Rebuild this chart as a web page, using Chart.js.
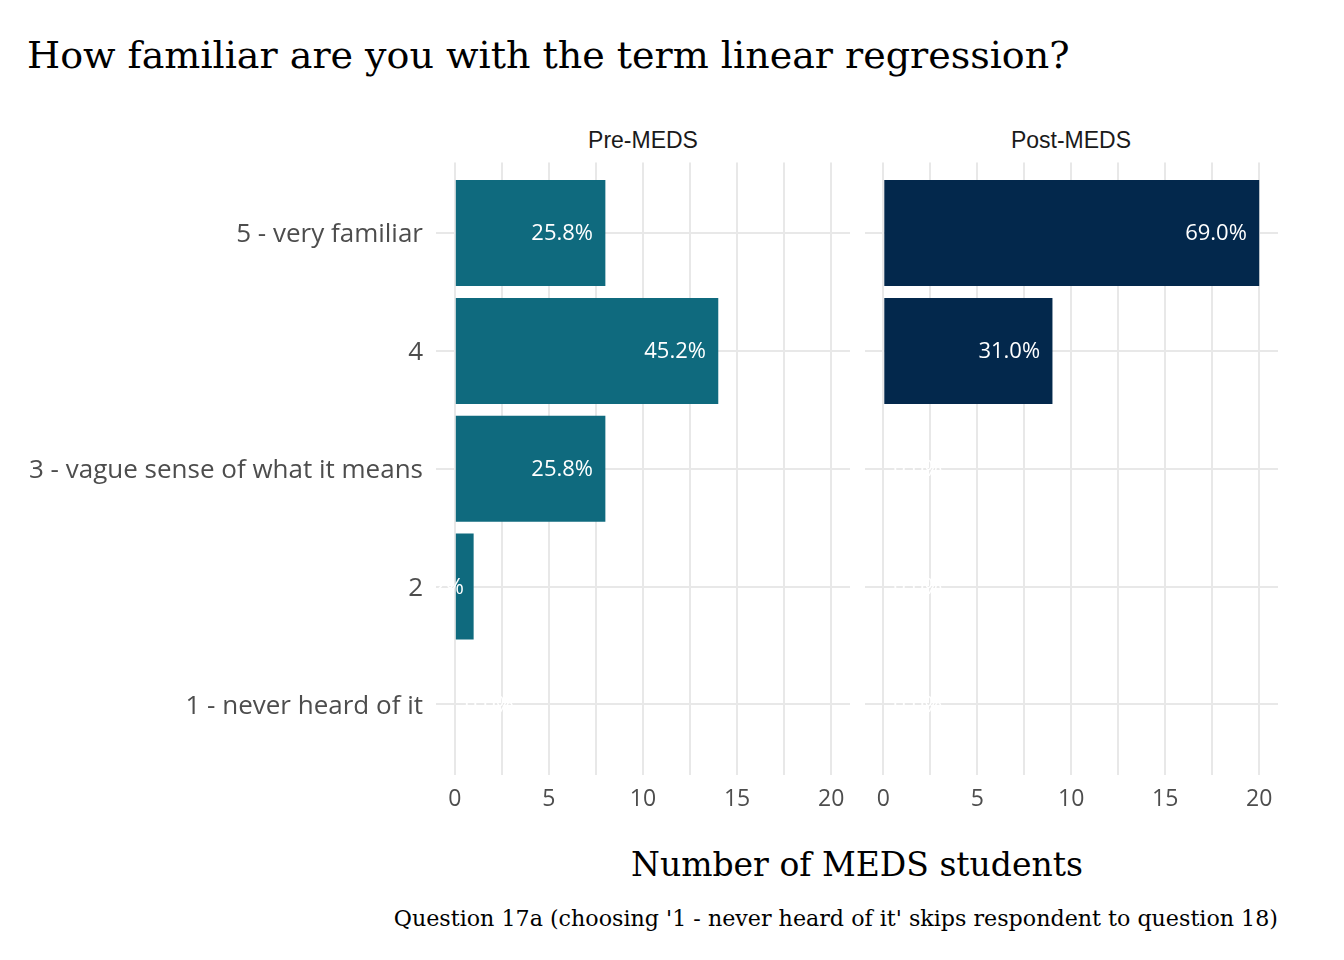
<!DOCTYPE html>
<html>
<head>
<meta charset="utf-8">
<script src="https://cdn.jsdelivr.net/npm/chart.js@4.4.1/dist/chart.umd.min.js"></script>
<style>
  html, body { margin: 0; padding: 0; background: #ffffff; }
  #wrap { position: relative; width: 1344px; height: 960px; background: #ffffff; overflow: hidden; }
  .txt { position: absolute; white-space: nowrap; line-height: 1; }
  #title { left: 27px; top: 36px; font-family: "DejaVu Serif", serif; font-size: 38px; color: #000; }
  .strip { font-family: "Liberation Sans", Arial, sans-serif; font-size: 23px; color: #1a1a1a; transform: translateX(-50%); top: 129px; }
  #xtitle { left: 857px; top: 848px; transform: translateX(-50%); font-family: "DejaVu Serif", serif; font-size: 33px; color: #000; }
  #caption { right: 66px; top: 907px; font-family: "DejaVu Serif", serif; font-size: 22.2px; color: #000; }
  #c1 { position: absolute; left: 0px; top: 100px; }
  #c2 { position: absolute; left: 860px; top: 100px; }
</style>
</head>
<body>
<div id="wrap">
  <div id="title" class="txt">How familiar are you with the term linear regression?</div>
  <div class="txt strip" style="left:643px;">Pre-MEDS</div>
  <div class="txt strip" style="left:1071px;">Post-MEDS</div>
  <div id="xtitle" class="txt">Number of MEDS students</div>
  <div id="caption" class="txt">Question 17a (choosing '1 - never heard of it' skips respondent to question 18)</div>
  <canvas id="c1" width="860" height="715"></canvas>
  <canvas id="c2" width="430" height="715"></canvas>
</div>
<script>
// ---- data ----
const categories = ["5 - very familiar", "4", "3 - vague sense of what it means", "2", "1 - never heard of it"];
const preCounts = [8, 14, 8, 1, 0];
const postCounts = [20, 9, 0, 0, 0];
const xTickValues = [0, 2.5, 5, 7.5, 10, 12.5, 15, 17.5, 20];
const yPositions = [1, 2, 3, 4, 5];
const preColor = "#0f6a7e";
const postColor = "#03284c";

const sansFont = "'Open Sans', Lato, sans-serif";

function pctLabels(counts) {
  const total = counts.reduce((a, b) => a + b, 0);
  return counts.map(c => (100 * c / total).toFixed(1) + "%");
}

const barLabelPlugin = {
  id: "barLabels",
  afterDatasetsDraw(chart, args, opts) {
    const ctx = chart.ctx;
    const meta = chart.getDatasetMeta(0);
    const labels = opts.labels;
    const a = chart.chartArea;
    ctx.save();
    ctx.beginPath();
    ctx.rect(a.left, a.top, a.right - a.left, a.bottom - a.top);
    ctx.clip();
    ctx.font = "22px " + sansFont;
    ctx.fillStyle = "#ffffff";
    ctx.textBaseline = "middle";
    meta.data.forEach((el, i) => {
      const txt = labels[i];
      const w = ctx.measureText(txt).width;
      const v = chart.data.datasets[0].data[i].x;
      if (v === 0) {
        ctx.textAlign = "left";
        ctx.fillText(txt, el.x + 10, el.y + 1);
      } else {
        ctx.textAlign = "right";
        ctx.fillText(txt, el.x - 0.2 * w, el.y + 1);
      }
    });
    ctx.restore();
  }
};

function makeChart(canvasId, counts, color, showY, yWidth, padRight) {
  const data = counts.map((c, i) => ({ x: c, y: yPositions[i] }));
  return new Chart(document.getElementById(canvasId), {
    type: "bar",
    data: {
      datasets: [{
        data: data,
        backgroundColor: color,
        borderWidth: 0,
        categoryPercentage: 1.0,
        barPercentage: 0.9
      }]
    },
    plugins: [barLabelPlugin],
    options: {
      indexAxis: "y",
      responsive: false,
      animation: false,
      layout: { padding: { top: 62.4, right: padRight, bottom: 0, left: 0 } },
      plugins: {
        legend: { display: false },
        tooltip: { enabled: false },
        barLabels: { labels: pctLabels(counts) }
      },
      scales: {
        x: {
          type: "linear",
          min: -1,
          max: 21,
          offset: false,
          afterBuildTicks: (s) => { s.ticks = xTickValues.map(v => ({ value: v })); },
          afterFit: (s) => { s.height = 40; },
          grid: {
            color: "#e8e8e8",
            lineWidth: 2,
            drawTicks: false,
            offset: false
          },
          border: { display: false },
          ticks: {
            padding: 11,
            autoSkip: false,
            maxRotation: 0,
            color: "#4d4d4d",
            font: { family: sansFont, size: 23 },
            callback: (v) => (v % 5 === 0 ? String(v) : "")
          }
        },
        y: {
          type: "linear",
          reverse: true,
          min: 0.4,
          max: 5.6,
          offset: false,
          afterBuildTicks: (s) => { s.ticks = yPositions.map(v => ({ value: v })); },
          afterFit: (s) => { s.width = yWidth; },
          grid: { color: "#e8e8e8", lineWidth: 2, drawTicks: false, offset: false },
          border: { display: false },
          ticks: {
            display: showY,
            padding: 13,
            labelOffset: 2,
            autoSkip: false,
            color: "#4d4d4d",
            font: { family: sansFont, size: 26 },
            callback: (v) => categories[yPositions.indexOf(v)]
          }
        }
      }
    }
  });
}

makeChart("c1", preCounts, preColor, true, 436, 10);
makeChart("c2", postCounts, postColor, false, 4.5, 12);
</script>
</body>
</html>
